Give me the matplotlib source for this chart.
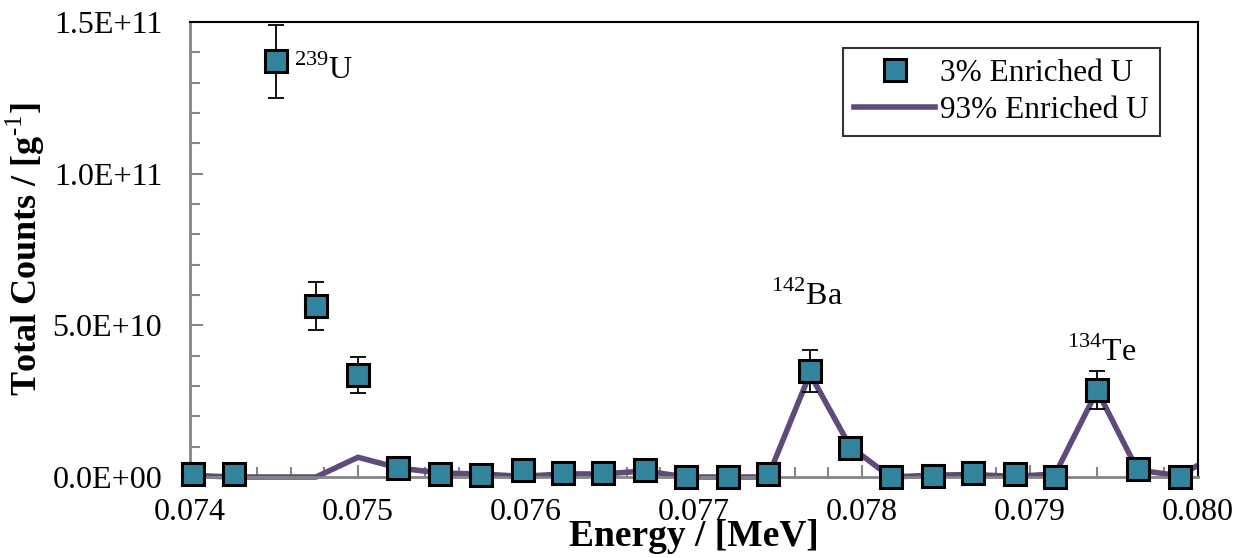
import numpy as np
import matplotlib
matplotlib.use("Agg")
import matplotlib.pyplot as plt
from matplotlib.ticker import MultipleLocator, FuncFormatter
from matplotlib.patches import Rectangle

# Data
energy = [0.07402, 0.07426, 0.07451, 0.07475, 0.07500, 0.07524, 0.07549, 0.07573,
          0.07598, 0.07622, 0.07646, 0.07671, 0.07695, 0.07720, 0.07744, 0.07769,
          0.07793, 0.07817, 0.07842, 0.07866, 0.07891, 0.07915, 0.07940, 0.07964,
          0.07989]
counts_3 = [1.0e9, 1.0e9, 1.37e11, 5.64e10, 3.36e10, 3.0e9, 1.0e9, 0.5e9,
            2.3e9, 1.3e9, 1.3e9, 2.3e9, 0.0, 0.0, 1.0e9, 3.5e10,
            9.6e9, 0.0, 0.2e9, 1.3e9, 1.0e9, 0.0, 2.87e10, 2.6e9,
            0.0]
err_3 = [0.2e9, 0.2e9, 1.2e10, 8.0e9, 6.0e9, 0.6e9, 0.2e9, 0.1e9,
         0.5e9, 0.3e9, 0.3e9, 0.5e9, 0.0, 0.0, 0.2e9, 7.0e9,
         2.2e9, 0.0, 0.1e9, 0.3e9, 0.2e9, 0.0, 6.2e9, 0.5e9,
         0.0]
energy_93 = energy + [0.08013]
counts_93 = [0.5e9, 0.0, 0.0, 0.0, 6.5e9, 3.0e9, 1.3e9, 1.0e9,
             0.2e9, 1.0e9, 1.0e9, 2.0e9, 0.0, 0.0, 0.0, 3.4e10,
             1.0e10, 0.0, 0.6e9, 0.8e9, 0.2e9, 1.0e9, 2.85e10, 2.3e9,
             0.4e9, 8.0e9]

teal = "#31849B"
purple = "#604A7B"

plt.rcParams['font.family'] = ['Liberation Serif', 'DejaVu Serif']
plt.rcParams['mathtext.fontset'] = 'custom'
plt.rcParams['mathtext.rm'] = 'Liberation Serif'
plt.rcParams['mathtext.bf'] = 'Liberation Serif:bold'

fig = plt.figure(figsize=(12.41, 5.58), dpi=100)
ax = fig.add_axes([190/1241, 1-477/558, (1198-190)/1241, (477-22)/558])

line, = ax.plot(energy_93, counts_93, color=purple, lw=4.0, zorder=2,
                label="93% Enriched U", solid_joinstyle='miter')
clip = Rectangle((0, -0.05), 1, 1.1, transform=ax.transAxes, facecolor='none', edgecolor='none')
line.set_clip_path(clip)

ax.errorbar(energy, counts_3, yerr=err_3, fmt='none', ecolor='black', elinewidth=1.3,
            capsize=6, capthick=1.3, zorder=3, clip_on=False)
ax.plot(energy, counts_3, ls='none', marker='s', markersize=15.5, markerfacecolor=teal,
        markeredgecolor='black', markeredgewidth=2.2, zorder=4, clip_on=False,
        label="3% Enriched U")

ax.set_xlim(0.074, 0.080)
ax.set_ylim(0, 1.5e11)
ax.xaxis.set_major_locator(MultipleLocator(0.001))
ax.xaxis.set_minor_locator(MultipleLocator(0.0002))
ax.yaxis.set_major_locator(MultipleLocator(5e10))
ax.yaxis.set_minor_locator(MultipleLocator(1e10))
ax.xaxis.set_major_formatter(FuncFormatter(lambda v, p: f"{v:.3f}"))

def yfmt(v, p):
    if v == 0:
        return "0.0E+00"
    e = int(np.floor(np.log10(abs(v))))
    return f"{v/10**e:.1f}E+{e:02d}"
ax.yaxis.set_major_formatter(FuncFormatter(yfmt))

for s in ['left', 'bottom']:
    ax.spines[s].set_color('#858585')
    ax.spines[s].set_linewidth(2)
for s in ['top', 'right']:
    ax.spines[s].set_color('black')
    ax.spines[s].set_linewidth(1.5)

ax.tick_params(axis='both', which='both', direction='in', color='#858585', width=1.5)
ax.tick_params(axis='both', which='major', length=9, labelsize=23)
ax.tick_params(axis='both', which='minor', length=7)
ax.tick_params(axis='x', pad=15)
ax.tick_params(axis='y', pad=20)

ax.set_xlabel("Energy / [MeV]", fontsize=27, fontweight='bold', labelpad=-6)
ax.set_ylabel("Total Counts / [g$^{\\text{-1}}$]", fontsize=26, fontweight='bold', labelpad=0)
ax.yaxis.set_label_coords(-0.142, 0.5)

ax.text(0.07462, 1.34e11, "$^{239}$U", fontsize=23, ha='left', va='center')
ax.text(0.07767, 5.95e10, "$^{142}$Ba", fontsize=23, ha='center', va='center')
ax.text(0.07943, 4.1e10, "$^{134}$Te", fontsize=23, ha='center', va='center')

handles, labels = ax.get_legend_handles_labels()
leg = ax.legend(handles[::-1], labels[::-1], loc='upper right', bbox_to_anchor=(0.962, 0.943),
                fontsize=22.5, frameon=True, fancybox=False, edgecolor='black',
                handlelength=2.6, handletextpad=0.15, borderpad=0.35, labelspacing=0.25,
                borderaxespad=0)
leg.get_frame().set_linewidth(1.5)

fig.savefig("out.png", dpi=100)
